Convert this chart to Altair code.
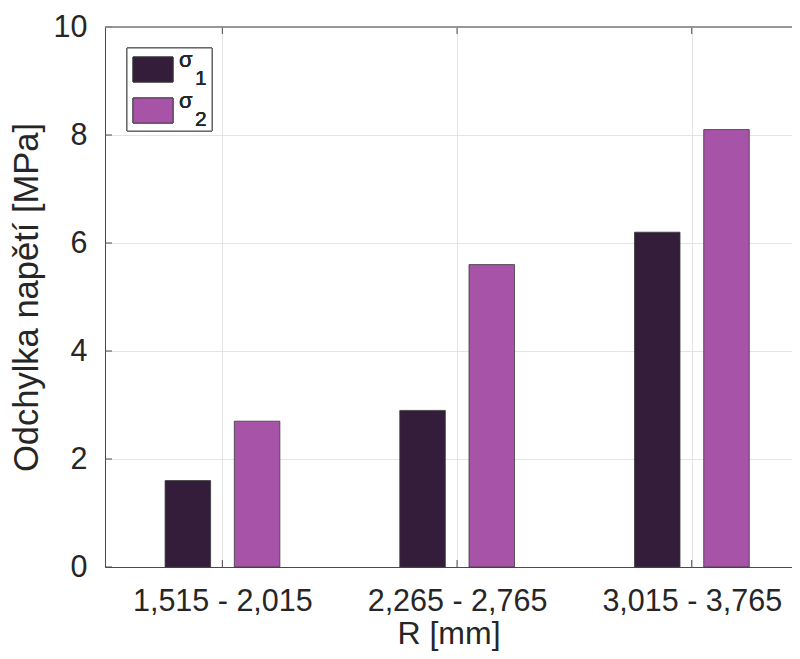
import altair as alt
import pandas as pd

# ---- data ----
categories = ["1,515 - 2,015", "2,265 - 2,765", "3,015 - 3,765"]
series_names = ["σ1", "σ2"]
sigma1 = [1.6, 2.9, 6.2]
sigma2 = [2.7, 5.6, 8.1]
y_ticks = [0, 2, 4, 6, 8, 10]

# ---- styling / layout ----
colors = ["#341c3b", "#a754a8"]
FONT = "Liberation Sans"
TXT = "#262626"
AX = "#4a4a4a"
W, H = 687, 540
UNIT = 234.7
offsets = [-0.147, 0.148]
half = 0.097
XTITLE = "R [mm]"
YTITLE = "Odchylka napětí [MPa]"

rows = []
for s, (name, vals) in enumerate(zip(series_names, [sigma1, sigma2])):
    for i, v in enumerate(vals):
        c = i + 1 + offsets[s]
        rows.append({"series": name, "cat": categories[i],
                     "x0": c - half, "x1": c + half, "value": v})
df = pd.DataFrame(rows)

xscale = alt.Scale(domain=[0.5, 0.5 + W / UNIT], nice=False, zero=False)
yscale = alt.Scale(domain=[0, 10], nice=False, zero=True)
label_expr = "[" + ",".join(f"'{c}'" for c in categories) + "][datum.value - 1]"

xaxis = alt.Axis(values=[1, 2, 3], labelExpr=label_expr, title=XTITLE,
                 grid=True, ticks=False, tickSize=0, labelPadding=19,
                 titleBaseline="alphabetic", titleY=76,
                 labelFontSize=30.5, titleFontSize=32,
                 labelOverlap=False)
yaxis = alt.Axis(values=y_ticks, title=YTITLE,
                 grid=True, ticks=False, tickSize=0, labelPadding=18,
                 titlePadding=9, labelFontSize=30.5, titleFontSize=34.5)

bars = alt.Chart(df).mark_rect(stroke="#3a3a3a", strokeWidth=0.8).encode(
    x=alt.X("x0:Q", scale=xscale, axis=xaxis, title=XTITLE),
    x2="x1:Q",
    y=alt.Y("value:Q", scale=yscale, axis=yaxis, title=YTITLE),
    y2=alt.Y2Datum(0),
    color=alt.Color("series:N", scale=alt.Scale(domain=series_names, range=colors),
                    legend=None),
)

ytick_df = pd.DataFrame({"v": y_ticks})
xtick_df = pd.DataFrame({"c": [1, 2, 3]})

yt = alt.Chart(ytick_df).mark_rule(color=AX, strokeWidth=1).encode(
    y=alt.Y("v:Q", scale=yscale, axis=yaxis, title=YTITLE), x=alt.value(0), x2=alt.value(7))
xt_b = alt.Chart(xtick_df).mark_rule(color=AX, strokeWidth=1).encode(
    x=alt.X("c:Q", scale=xscale, axis=xaxis, title=XTITLE), y=alt.value(H - 7), y2=alt.value(H))
xt_t = alt.Chart(xtick_df).mark_rule(color=AX, strokeWidth=1).encode(
    x=alt.X("c:Q", scale=xscale, axis=xaxis, title=XTITLE), y=alt.value(0), y2=alt.value(7))
top_border = alt.Chart(xtick_df).mark_rule(color="#8a8a8a", strokeWidth=1).encode(
    x=alt.value(0), x2=alt.value(W), y=alt.value(0))

# ---- legend (drawn manually, like MATLAB's) ----
leg_box = alt.Chart(xtick_df).mark_rect(fill="white", stroke="#555555", strokeWidth=1).encode(
    x=alt.value(22), x2=alt.value(107), y=alt.value(21), y2=alt.value(104))
leg_layers = []
for k, (col, y0) in enumerate(zip(colors, [30, 71])):
    leg_layers.append(alt.Chart(xtick_df).mark_rect(fill=col, stroke="#3a3a3a", strokeWidth=0.8).encode(
        x=alt.value(28), x2=alt.value(68), y=alt.value(y0), y2=alt.value(y0 + 25)))
    leg_layers.append(alt.Chart(xtick_df).mark_text(
        align="left", baseline="alphabetic", font=FONT, fontSize=22, color=TXT).encode(
        x=alt.value(74), y=alt.value(y0 + 10), text=alt.value("σ")))
    leg_layers.append(alt.Chart(xtick_df).mark_text(
        align="left", baseline="alphabetic", font=FONT, fontSize=21, color=TXT).encode(
        x=alt.value(90), y=alt.value(y0 + 28), text=alt.value(series_names[k][1:])))

chart = alt.layer(bars, yt, xt_b, xt_t, top_border, leg_box, *leg_layers).properties(
    width=W, height=H,
    autosize=alt.AutoSizeParams(type="none"),
    padding={"left": 97, "top": 19, "right": 0, "bottom": 84},
).configure_view(stroke=None).configure_axis(
    labelFont=FONT, titleFont=FONT, labelColor=TXT, titleColor=TXT,
    titleFontWeight="normal", domainColor=AX, domainWidth=1,
    gridColor="#e4e4e4", gridWidth=1,
)

chart.save("out.html", embed_options={"renderer": "svg", "actions": False})
